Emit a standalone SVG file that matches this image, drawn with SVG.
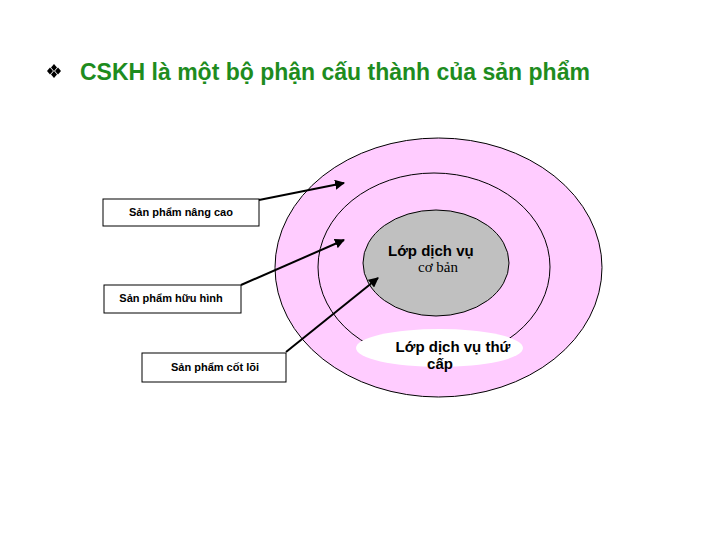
<svg xmlns="http://www.w3.org/2000/svg" width="720" height="540" viewBox="0 0 720 540">
<defs>
<marker id="ah" viewBox="0 0 10 10" refX="9" refY="5" markerWidth="5" markerHeight="5" orient="auto" markerUnits="strokeWidth">
<path d="M0,0 L10,5 L0,10 z" fill="#000"/>
</marker>
</defs>
<style>
.box{fill:#fff;stroke:#000;stroke-width:1}
.bt{font-family:"Liberation Sans",Arial,sans-serif;font-size:11px;font-weight:bold;fill:#000}
.lt{font-family:"Liberation Sans",Arial,sans-serif;font-size:15px;font-weight:bold;fill:#000}
.conn{stroke:#000;stroke-width:2;fill:none;marker-end:url(#ah)}
</style>
<rect width="720" height="540" fill="#fff"/>
<g id="title">
<g fill="#000">
<polygon points="54,64 57,67.5 54,71 51,67.5"/>
<polygon points="54,71 57,74.5 54,78 51,74.5"/>
<polygon points="50,67.5 53,71 50,74.5 47,71"/>
<polygon points="58,67.5 61,71 58,74.5 55,71"/>
</g>
<text x="80" y="80" font-family="Liberation Sans,Arial,sans-serif" font-size="23" font-weight="bold" fill="#1E8C1E">CSKH là một bộ phận cấu thành của sản phẩm</text>
</g>
<g id="outer">
<ellipse cx="438.5" cy="267.5" rx="163.5" ry="129.5" fill="#FFCCFF" stroke="#000" stroke-width="1"/>
</g>
<g id="middle">
<ellipse cx="434" cy="267" rx="116" ry="94" fill="#FFCCFF" stroke="#000" stroke-width="1"/>
</g>
<g id="core">
<ellipse cx="436" cy="263" rx="73" ry="53" fill="#C0C0C0" stroke="#000" stroke-width="1"/>
<text class="lt" x="388" y="256">Lớp dịch vụ</text>
<text x="418" y="272" font-family="Liberation Serif,Times New Roman,serif" font-size="15" fill="#000">cơ bản</text>
</g>
<g id="secondary">
<ellipse cx="439.5" cy="348" rx="83.5" ry="19" fill="#fff"/>
<text class="lt" x="453" y="352" text-anchor="middle">Lớp dịch vụ thứ</text>
<text class="lt" x="440" y="369" text-anchor="middle">cấp</text>
</g>
<g id="box-nang-cao">
<rect class="box" x="103" y="199" width="156" height="27"/>
<text class="bt" x="181" y="216" text-anchor="middle">Sản phẩm nâng cao</text>
</g>
<g id="box-huu-hinh">
<rect class="box" x="104" y="285" width="137" height="28"/>
<text class="bt" x="171" y="302" text-anchor="middle">Sản phẩm hữu hình</text>
</g>
<g id="box-cot-loi">
<rect class="box" x="142" y="353" width="144" height="29"/>
<text class="bt" x="215" y="371" text-anchor="middle">Sản phẩm cốt lõi</text>
</g>
<g id="connectors">
<line class="conn" x1="259" y1="200" x2="344" y2="183"/>
<line class="conn" x1="241" y1="285" x2="344" y2="240"/>
<line class="conn" x1="286" y1="352" x2="378" y2="278"/>
</g>
</svg>
